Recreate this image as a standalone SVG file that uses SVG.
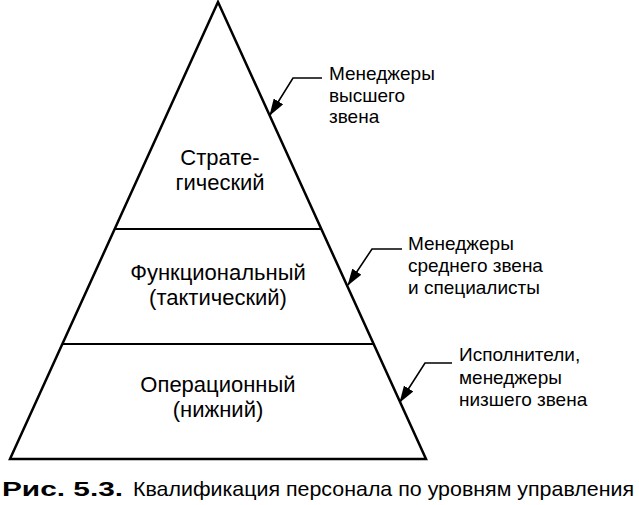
<svg xmlns="http://www.w3.org/2000/svg" width="639" height="505" viewBox="0 0 639 505">
<style>
  .t { font-family: "Liberation Sans", Arial, sans-serif; fill: #000; }
  .in { font-size: 22px; text-anchor: middle; }
  .side { font-size: 19px; }
  .edge { fill: none; stroke: #000; stroke-width: 2.5; stroke-linejoin: miter; }
  .div { stroke: #000; stroke-width: 2; }
  .conn { fill: none; stroke: #000; stroke-width: 1.6; }
  .cap { font-size: 21px; }
</style>
<defs>
  <marker id="ah" viewBox="0 0 17 11" refX="16" refY="5.5" markerWidth="17" markerHeight="11" markerUnits="userSpaceOnUse" orient="auto">
    <path d="M0,0 L17,5.5 L0,11 z" fill="#000"/>
  </marker>
</defs>
<g id="pyramid">
  <path class="edge" d="M218,2 L426,459 L10,459 Z"/>
  <line class="div" x1="114" y1="229" x2="322" y2="229"/>
  <line class="div" x1="62" y1="344" x2="374" y2="344"/>
</g>
<g id="level-strategic">
  <text class="t in" x="220" y="165">Страте-</text>
  <text class="t in" x="220" y="190">гический</text>
</g>
<g id="level-functional">
  <text class="t in" x="218" y="280">Функциональный</text>
  <text class="t in" x="218" y="305">(тактический)</text>
</g>
<g id="level-operational">
  <text class="t in" x="218" y="392">Операционный</text>
  <text class="t in" x="218" y="417">(нижний)</text>
</g>
<g id="label-top">
  <text class="t side" x="329" y="80">Менеджеры</text>
  <text class="t side" x="329" y="102">высшего</text>
  <text class="t side" x="329" y="123">звена</text>
</g>
<g id="label-middle">
  <text class="t side" x="408" y="250">Менеджеры</text>
  <text class="t side" x="408" y="272">среднего звена</text>
  <text class="t side" x="408" y="294">и специалисты</text>
</g>
<g id="label-bottom">
  <text class="t side" x="459" y="361">Исполнители,</text>
  <text class="t side" x="459" y="384">менеджеры</text>
  <text class="t side" x="459" y="406">низшего звена</text>
</g>
<g id="connectors">
  <path class="conn" d="M322,78 H293 L270,115" marker-end="url(#ah)"/>
  <path class="conn" d="M402,249 H372 L348,285" marker-end="url(#ah)"/>
  <path class="conn" d="M452,363 H425 L400,402" marker-end="url(#ah)"/>
</g>
<g id="caption">
  <text class="t cap" transform="translate(2,496) scale(1.42,1)" font-weight="bold">Рис. 5.3.</text>
  <text class="t cap" x="133" y="496" textLength="501" lengthAdjust="spacingAndGlyphs">Квалификация персонала по уровням управления</text>
</g>
</svg>
